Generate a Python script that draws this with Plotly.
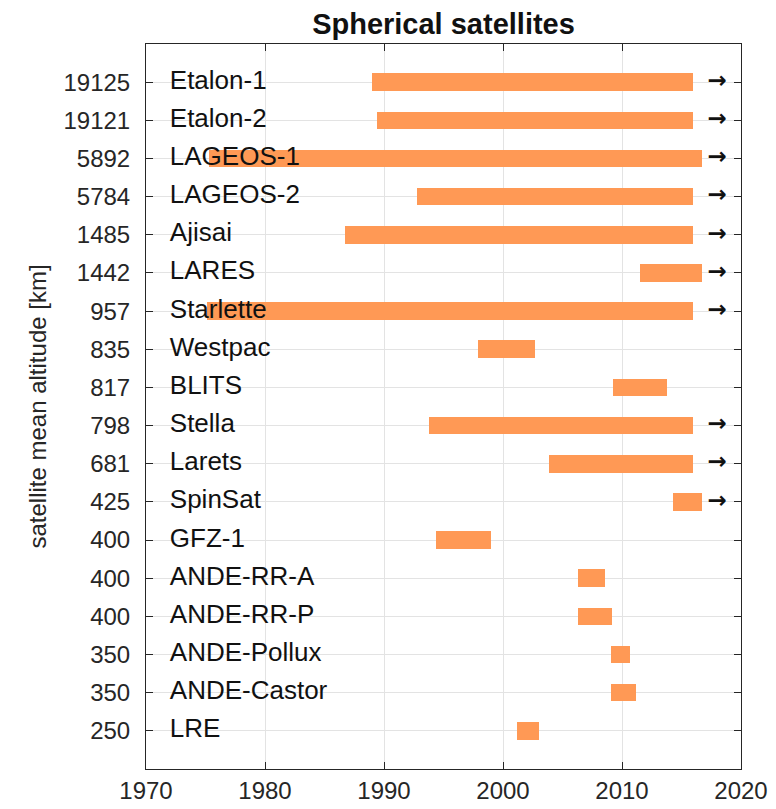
import plotly.graph_objects as go

names = ["Etalon-1", "Etalon-2", "LAGEOS-1", "LAGEOS-2", "Ajisai", "LARES", "Starlette",
         "Westpac", "BLITS", "Stella", "Larets", "SpinSat", "GFZ-1", "ANDE-RR-A",
         "ANDE-RR-P", "ANDE-Pollux", "ANDE-Castor", "LRE"]
altitudes = ["19125", "19121", "5892", "5784", "1485", "1442", "957", "835", "817",
             "798", "681", "425", "400", "400", "400", "350", "350", "250"]
start_year = [1989.0, 1989.4, 1975.3, 1992.8, 1986.7, 2011.5, 1975.1, 1997.9, 2009.25,
              1993.8, 2003.9, 2014.25, 1994.4, 2006.3, 2006.3, 2009.1, 2009.1, 2001.2]
end_year = [2016.0, 2016.0, 2016.7, 2016.0, 2016.0, 2016.7, 2016.0, 2002.7, 2013.76,
            2016.0, 2016.0, 2016.7, 1999.0, 2008.56, 2009.2, 2010.65, 2011.2, 2003.0]
ongoing = [True, True, True, True, True, True, True, False, False,
           True, True, True, False, False, False, False, False, False]

rows = list(range(len(names)))
FONT = "Liberation Sans, Arial, sans-serif"
TXT = "#111111"
AX = "#262626"

fig = go.Figure()
fig.add_trace(go.Bar(
    y=rows, x=[e - s for s, e in zip(start_year, end_year)], base=start_year,
    orientation="h", width=0.46,
    marker=dict(color="#FF9955", line=dict(width=0)),
    showlegend=False, hoverinfo="skip"))

fig.add_trace(go.Scatter(
    x=[1972.0] * len(names), y=rows, mode="text", text=names,
    textposition="middle right", textfont=dict(family=FONT, size=26, color=TXT),
    showlegend=False, hoverinfo="skip"))

arrow_rows = [r for r, o in zip(rows, ongoing) if o]
fig.add_trace(go.Scatter(
    x=[2018.0] * len(arrow_rows), y=arrow_rows, mode="text", text=["<b>→</b>"] * len(arrow_rows),
    textposition="middle center", textfont=dict(family="DejaVu Sans, sans-serif", size=23, color=TXT),
    showlegend=False, hoverinfo="skip"))

fig.update_layout(
    width=768, height=801,
    paper_bgcolor="white", plot_bgcolor="white",
    margin=dict(l=138, r=35, t=36, b=40),
    title=dict(text="<b>Spherical satellites</b>", x=0.5, xanchor="center",
               xref="paper", y=0.9805, yref="container", yanchor="middle",
               font=dict(family=FONT, size=29, color=TXT)),
    font=dict(family=FONT, size=24, color=AX),
    bargap=0,
)
fig.update_xaxes(range=[1970, 2020], tickvals=[1970, 1980, 1990, 2000, 2010, 2020],
                 showgrid=True, gridcolor="#e3e3e3", gridwidth=1,
                 ticks="inside", ticklen=7, tickcolor=AX,
                 showline=True, linecolor=AX, linewidth=1, mirror="ticks",
                 zeroline=False, tickfont=dict(size=24, color=AX), automargin=False)
fig.update_yaxes(range=[len(names), -1], tickvals=rows, ticktext=altitudes,
                 showgrid=True, gridcolor="#e3e3e3", gridwidth=1,
                 ticks="inside", ticklen=7, tickcolor=AX,
                 showline=True, linecolor=AX, linewidth=1, mirror="ticks",
                 zeroline=False, tickfont=dict(size=24, color=AX), automargin=False,
                 ticklabelstandoff=10,
                 title=dict(text="satellite mean altitude [km]", standoff=10,
                            font=dict(size=24, color=AX)))

fig.write_html("out.html")
